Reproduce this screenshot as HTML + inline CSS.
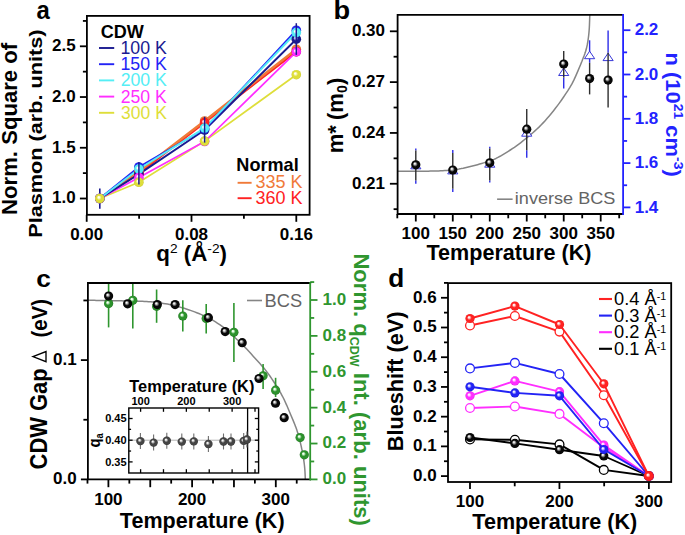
<!DOCTYPE html><html><head><meta charset="utf-8"><style>html,body{margin:0;padding:0;background:#fff;overflow:hidden}svg{display:block}text{font-family:"Liberation Sans",sans-serif}</style></head><body><svg width="685" height="535" viewBox="0 0 685 535" font-family="Liberation Sans, sans-serif"><defs><radialGradient id="gk" cx="0.5" cy="0.5" r="0.5" fx="0.37" fy="0.35"><stop offset="0" stop-color="#fff"/><stop offset="0.16" stop-color="#e0e0e0"/><stop offset="0.55" stop-color="#080808"/><stop offset="0.85" stop-color="#080808"/><stop offset="1" stop-color="#000"/></radialGradient><radialGradient id="gn" cx="0.5" cy="0.5" r="0.5" fx="0.37" fy="0.35"><stop offset="0" stop-color="#fff"/><stop offset="0.16" stop-color="#c8c8ff"/><stop offset="0.5" stop-color="#1a1a90"/><stop offset="0.85" stop-color="#1a1a90"/><stop offset="1" stop-color="#14147a"/></radialGradient><radialGradient id="gb" cx="0.5" cy="0.5" r="0.5" fx="0.37" fy="0.35"><stop offset="0" stop-color="#fff"/><stop offset="0.16" stop-color="#e0e0ff"/><stop offset="0.5" stop-color="#2323f5"/><stop offset="0.85" stop-color="#2323f5"/><stop offset="1" stop-color="#1a1ad0"/></radialGradient><radialGradient id="gc" cx="0.5" cy="0.5" r="0.5" fx="0.37" fy="0.35"><stop offset="0" stop-color="#fff"/><stop offset="0.16" stop-color="#ffffff"/><stop offset="0.5" stop-color="#55eef5"/><stop offset="0.85" stop-color="#55eef5"/><stop offset="1" stop-color="#40d8e4"/></radialGradient><radialGradient id="gm" cx="0.5" cy="0.5" r="0.5" fx="0.37" fy="0.35"><stop offset="0" stop-color="#fff"/><stop offset="0.16" stop-color="#ffe8ff"/><stop offset="0.5" stop-color="#ff2eff"/><stop offset="0.85" stop-color="#ff2eff"/><stop offset="1" stop-color="#e020e0"/></radialGradient><radialGradient id="gy" cx="0.5" cy="0.5" r="0.5" fx="0.37" fy="0.35"><stop offset="0" stop-color="#fff"/><stop offset="0.16" stop-color="#ffffe8"/><stop offset="0.5" stop-color="#dede3a"/><stop offset="0.85" stop-color="#dede3a"/><stop offset="1" stop-color="#c8c830"/></radialGradient><radialGradient id="go" cx="0.5" cy="0.5" r="0.5" fx="0.37" fy="0.35"><stop offset="0" stop-color="#fff"/><stop offset="0.16" stop-color="#fff0e0"/><stop offset="0.5" stop-color="#f07a38"/><stop offset="0.85" stop-color="#f07a38"/><stop offset="1" stop-color="#d87030"/></radialGradient><radialGradient id="gr" cx="0.5" cy="0.5" r="0.5" fx="0.37" fy="0.35"><stop offset="0" stop-color="#fff"/><stop offset="0.16" stop-color="#ffe8e8"/><stop offset="0.5" stop-color="#ff2222"/><stop offset="0.85" stop-color="#ff2222"/><stop offset="1" stop-color="#e81010"/></radialGradient><radialGradient id="gg" cx="0.5" cy="0.5" r="0.5" fx="0.37" fy="0.35"><stop offset="0" stop-color="#fff"/><stop offset="0.16" stop-color="#e8ffe8"/><stop offset="0.5" stop-color="#2c922c"/><stop offset="0.85" stop-color="#2c922c"/><stop offset="1" stop-color="#1e6c1e"/></radialGradient><radialGradient id="ggy" cx="0.5" cy="0.5" r="0.5" fx="0.37" fy="0.35"><stop offset="0" stop-color="#fff"/><stop offset="0.16" stop-color="#e8e8e8"/><stop offset="0.5" stop-color="#454545"/><stop offset="0.85" stop-color="#454545"/><stop offset="1" stop-color="#2c2c2c"/></radialGradient></defs><rect width="685" height="535" fill="#fff"/>
<line x1="79.90" y1="198.50" x2="86.90" y2="198.50" stroke="#000" stroke-width="1.8" stroke-linecap="butt"/>
<text x="75.60" y="203.40" font-size="17" font-weight="bold" fill="#000" text-anchor="end">1.0</text>
<line x1="79.90" y1="147.76" x2="86.90" y2="147.76" stroke="#000" stroke-width="1.8" stroke-linecap="butt"/>
<text x="75.60" y="152.66" font-size="17" font-weight="bold" fill="#000" text-anchor="end">1.5</text>
<line x1="79.90" y1="97.03" x2="86.90" y2="97.03" stroke="#000" stroke-width="1.8" stroke-linecap="butt"/>
<text x="75.60" y="101.93" font-size="17" font-weight="bold" fill="#000" text-anchor="end">2.0</text>
<line x1="79.90" y1="46.30" x2="86.90" y2="46.30" stroke="#000" stroke-width="1.8" stroke-linecap="butt"/>
<text x="75.60" y="51.20" font-size="17" font-weight="bold" fill="#000" text-anchor="end">2.5</text>
<line x1="82.90" y1="173.13" x2="86.90" y2="173.13" stroke="#000" stroke-width="1.8" stroke-linecap="butt"/>
<line x1="82.90" y1="122.40" x2="86.90" y2="122.40" stroke="#000" stroke-width="1.8" stroke-linecap="butt"/>
<line x1="82.90" y1="71.66" x2="86.90" y2="71.66" stroke="#000" stroke-width="1.8" stroke-linecap="butt"/>
<line x1="82.90" y1="20.93" x2="86.90" y2="20.93" stroke="#000" stroke-width="1.8" stroke-linecap="butt"/>
<line x1="86.70" y1="214.80" x2="86.70" y2="221.80" stroke="#000" stroke-width="1.8" stroke-linecap="butt"/>
<text x="86.70" y="240.20" font-size="17" font-weight="bold" fill="#000" text-anchor="middle">0.00</text>
<line x1="191.50" y1="214.80" x2="191.50" y2="221.80" stroke="#000" stroke-width="1.8" stroke-linecap="butt"/>
<text x="191.50" y="240.20" font-size="17" font-weight="bold" fill="#000" text-anchor="middle">0.08</text>
<line x1="296.30" y1="214.80" x2="296.30" y2="221.80" stroke="#000" stroke-width="1.8" stroke-linecap="butt"/>
<text x="296.30" y="240.20" font-size="17" font-weight="bold" fill="#000" text-anchor="middle">0.16</text>
<line x1="139.10" y1="214.80" x2="139.10" y2="218.80" stroke="#000" stroke-width="1.8" stroke-linecap="butt"/>
<line x1="243.90" y1="214.80" x2="243.90" y2="218.80" stroke="#000" stroke-width="1.8" stroke-linecap="butt"/>
<polyline points="99.80,198.50 138.90,173.40 204.60,122.60 296.30,51.60" fill="none" stroke="#ff2222" stroke-width="2.0" stroke-linejoin="round"/>
<polyline points="99.80,198.50 138.90,171.50 204.60,121.00 296.30,49.20" fill="none" stroke="#f07a38" stroke-width="2.6" stroke-linejoin="round"/>
<polyline points="99.80,198.50 138.90,182.30 204.60,141.10 296.30,74.70" fill="none" stroke="#dede3a" stroke-width="1.7" stroke-linejoin="round"/>
<polyline points="99.80,198.50 138.90,177.50 204.60,141.50 296.30,51.90" fill="none" stroke="#ff2eff" stroke-width="1.7" stroke-linejoin="round"/>
<polyline points="99.80,198.50 138.90,174.10 204.60,130.00 296.30,39.20" fill="none" stroke="#1a1a90" stroke-width="1.9" stroke-linejoin="round"/>
<polyline points="99.80,198.50 138.90,167.00 204.60,129.00 296.30,30.20" fill="none" stroke="#2323f5" stroke-width="1.9" stroke-linejoin="round"/>
<polyline points="99.80,198.50 138.90,169.00 204.60,128.10 296.30,32.50" fill="none" stroke="#55eef5" stroke-width="1.9" stroke-linejoin="round"/>
<line x1="99.80" y1="188.50" x2="99.80" y2="208.70" stroke="#1a1a90" stroke-width="1.6" stroke-linecap="butt"/>
<circle cx="99.80" cy="198.50" r="4.8" fill="url(#go)"/>
<circle cx="138.90" cy="171.50" r="4.8" fill="url(#go)"/>
<circle cx="204.60" cy="121.00" r="4.8" fill="url(#go)"/>
<circle cx="296.30" cy="49.20" r="4.8" fill="url(#go)"/>
<circle cx="99.80" cy="198.50" r="4.8" fill="url(#gr)"/>
<circle cx="138.90" cy="173.40" r="4.8" fill="url(#gr)"/>
<circle cx="204.60" cy="122.60" r="4.8" fill="url(#gr)"/>
<circle cx="296.30" cy="51.60" r="4.8" fill="url(#gr)"/>
<circle cx="99.80" cy="198.50" r="4.8" fill="url(#gn)"/>
<circle cx="138.90" cy="174.10" r="4.8" fill="url(#gn)"/>
<circle cx="204.60" cy="130.00" r="4.8" fill="url(#gn)"/>
<circle cx="296.30" cy="39.20" r="4.8" fill="url(#gn)"/>
<circle cx="99.80" cy="198.50" r="4.8" fill="url(#gb)"/>
<circle cx="138.90" cy="167.00" r="4.8" fill="url(#gb)"/>
<circle cx="204.60" cy="129.00" r="4.8" fill="url(#gb)"/>
<circle cx="296.30" cy="30.20" r="4.8" fill="url(#gb)"/>
<circle cx="99.80" cy="198.50" r="4.8" fill="url(#gc)"/>
<circle cx="138.90" cy="169.00" r="4.8" fill="url(#gc)"/>
<circle cx="204.60" cy="128.10" r="4.8" fill="url(#gc)"/>
<circle cx="296.30" cy="32.50" r="4.8" fill="url(#gc)"/>
<circle cx="99.80" cy="198.50" r="4.8" fill="url(#gm)"/>
<circle cx="138.90" cy="177.50" r="4.8" fill="url(#gm)"/>
<circle cx="204.60" cy="141.50" r="4.8" fill="url(#gm)"/>
<circle cx="296.30" cy="51.90" r="4.8" fill="url(#gm)"/>
<circle cx="99.80" cy="198.50" r="4.8" fill="url(#gy)"/>
<circle cx="138.90" cy="182.30" r="4.8" fill="url(#gy)"/>
<circle cx="204.60" cy="141.10" r="4.8" fill="url(#gy)"/>
<circle cx="296.30" cy="74.70" r="4.8" fill="url(#gy)"/>
<line x1="138.90" y1="162.10" x2="138.90" y2="184.50" stroke="#1a1a90" stroke-width="1.5" stroke-linecap="butt"/>
<line x1="204.60" y1="116.80" x2="204.60" y2="142.60" stroke="#1a1a90" stroke-width="1.5" stroke-linecap="butt"/>
<line x1="296.30" y1="23.20" x2="296.30" y2="54.90" stroke="#1a1a90" stroke-width="1.5" stroke-linecap="butt"/>
<rect x="86.9" y="15.9" width="222.70" height="198.90" fill="none" stroke="#000" stroke-width="1.8"/>
<line x1="99.00" y1="48.00" x2="114.20" y2="48.00" stroke="#1a1a90" stroke-width="1.9" stroke-linecap="butt"/>
<line x1="99.00" y1="64.20" x2="114.20" y2="64.20" stroke="#2323f5" stroke-width="1.9" stroke-linecap="butt"/>
<line x1="99.00" y1="80.40" x2="114.20" y2="80.40" stroke="#55eef5" stroke-width="1.9" stroke-linecap="butt"/>
<line x1="99.00" y1="96.60" x2="114.20" y2="96.60" stroke="#ff2eff" stroke-width="1.9" stroke-linecap="butt"/>
<line x1="99.00" y1="112.80" x2="114.20" y2="112.80" stroke="#dede3a" stroke-width="1.9" stroke-linecap="butt"/>
<line x1="237.60" y1="182.80" x2="251.60" y2="182.80" stroke="#f07a38" stroke-width="1.9" stroke-linecap="butt"/>
<line x1="237.60" y1="198.20" x2="251.60" y2="198.20" stroke="#ff2222" stroke-width="1.9" stroke-linecap="butt"/>
<line x1="389.90" y1="183.76" x2="397.60" y2="183.76" stroke="#000" stroke-width="1.8" stroke-linecap="butt"/>
<text x="385.00" y="188.66" font-size="17" font-weight="bold" fill="#000" text-anchor="end">0.21</text>
<line x1="389.90" y1="132.94" x2="397.60" y2="132.94" stroke="#000" stroke-width="1.8" stroke-linecap="butt"/>
<text x="385.00" y="137.84" font-size="17" font-weight="bold" fill="#000" text-anchor="end">0.24</text>
<line x1="389.90" y1="82.12" x2="397.60" y2="82.12" stroke="#000" stroke-width="1.8" stroke-linecap="butt"/>
<text x="385.00" y="87.02" font-size="17" font-weight="bold" fill="#000" text-anchor="end">0.27</text>
<line x1="389.90" y1="31.30" x2="397.60" y2="31.30" stroke="#000" stroke-width="1.8" stroke-linecap="butt"/>
<text x="385.00" y="36.20" font-size="17" font-weight="bold" fill="#000" text-anchor="end">0.30</text>
<line x1="393.60" y1="209.17" x2="397.60" y2="209.17" stroke="#000" stroke-width="1.8" stroke-linecap="butt"/>
<line x1="393.60" y1="158.35" x2="397.60" y2="158.35" stroke="#000" stroke-width="1.8" stroke-linecap="butt"/>
<line x1="393.60" y1="107.53" x2="397.60" y2="107.53" stroke="#000" stroke-width="1.8" stroke-linecap="butt"/>
<line x1="393.60" y1="56.71" x2="397.60" y2="56.71" stroke="#000" stroke-width="1.8" stroke-linecap="butt"/>
<line x1="623.10" y1="207.40" x2="630.40" y2="207.40" stroke="#2323ff" stroke-width="1.8" stroke-linecap="butt"/>
<text x="634.70" y="212.60" font-size="17" font-weight="bold" fill="#2323ff" text-anchor="start">1.4</text>
<line x1="623.10" y1="163.10" x2="630.40" y2="163.10" stroke="#2323ff" stroke-width="1.8" stroke-linecap="butt"/>
<text x="634.70" y="168.30" font-size="17" font-weight="bold" fill="#2323ff" text-anchor="start">1.6</text>
<line x1="623.10" y1="118.80" x2="630.40" y2="118.80" stroke="#2323ff" stroke-width="1.8" stroke-linecap="butt"/>
<text x="634.70" y="124.00" font-size="17" font-weight="bold" fill="#2323ff" text-anchor="start">1.8</text>
<line x1="623.10" y1="74.50" x2="630.40" y2="74.50" stroke="#2323ff" stroke-width="1.8" stroke-linecap="butt"/>
<text x="634.70" y="79.70" font-size="17" font-weight="bold" fill="#2323ff" text-anchor="start">2.0</text>
<line x1="623.10" y1="30.20" x2="630.40" y2="30.20" stroke="#2323ff" stroke-width="1.8" stroke-linecap="butt"/>
<text x="634.70" y="35.40" font-size="17" font-weight="bold" fill="#2323ff" text-anchor="start">2.2</text>
<line x1="623.10" y1="185.25" x2="627.10" y2="185.25" stroke="#2323ff" stroke-width="1.8" stroke-linecap="butt"/>
<line x1="623.10" y1="140.95" x2="627.10" y2="140.95" stroke="#2323ff" stroke-width="1.8" stroke-linecap="butt"/>
<line x1="623.10" y1="96.65" x2="627.10" y2="96.65" stroke="#2323ff" stroke-width="1.8" stroke-linecap="butt"/>
<line x1="623.10" y1="52.35" x2="627.10" y2="52.35" stroke="#2323ff" stroke-width="1.8" stroke-linecap="butt"/>
<line x1="415.80" y1="214.00" x2="415.80" y2="221.50" stroke="#000" stroke-width="1.8" stroke-linecap="butt"/>
<text x="415.80" y="238.60" font-size="17" font-weight="bold" fill="#000" text-anchor="middle">100</text>
<line x1="452.78" y1="214.00" x2="452.78" y2="221.50" stroke="#000" stroke-width="1.8" stroke-linecap="butt"/>
<text x="452.78" y="238.60" font-size="17" font-weight="bold" fill="#000" text-anchor="middle">150</text>
<line x1="489.76" y1="214.00" x2="489.76" y2="221.50" stroke="#000" stroke-width="1.8" stroke-linecap="butt"/>
<text x="489.76" y="238.60" font-size="17" font-weight="bold" fill="#000" text-anchor="middle">200</text>
<line x1="526.74" y1="214.00" x2="526.74" y2="221.50" stroke="#000" stroke-width="1.8" stroke-linecap="butt"/>
<text x="526.74" y="238.60" font-size="17" font-weight="bold" fill="#000" text-anchor="middle">250</text>
<line x1="563.72" y1="214.00" x2="563.72" y2="221.50" stroke="#000" stroke-width="1.8" stroke-linecap="butt"/>
<text x="563.72" y="238.60" font-size="17" font-weight="bold" fill="#000" text-anchor="middle">300</text>
<line x1="600.70" y1="214.00" x2="600.70" y2="221.50" stroke="#000" stroke-width="1.8" stroke-linecap="butt"/>
<text x="600.70" y="238.60" font-size="17" font-weight="bold" fill="#000" text-anchor="middle">350</text>
<line x1="397.31" y1="214.00" x2="397.31" y2="218.30" stroke="#000" stroke-width="1.8" stroke-linecap="butt"/>
<line x1="434.29" y1="214.00" x2="434.29" y2="218.30" stroke="#000" stroke-width="1.8" stroke-linecap="butt"/>
<line x1="471.27" y1="214.00" x2="471.27" y2="218.30" stroke="#000" stroke-width="1.8" stroke-linecap="butt"/>
<line x1="508.25" y1="214.00" x2="508.25" y2="218.30" stroke="#000" stroke-width="1.8" stroke-linecap="butt"/>
<line x1="545.23" y1="214.00" x2="545.23" y2="218.30" stroke="#000" stroke-width="1.8" stroke-linecap="butt"/>
<line x1="582.21" y1="214.00" x2="582.21" y2="218.30" stroke="#000" stroke-width="1.8" stroke-linecap="butt"/>
<line x1="619.19" y1="214.00" x2="619.19" y2="218.30" stroke="#000" stroke-width="1.8" stroke-linecap="butt"/>
<polyline points="397.60,171.20 399.65,171.20 401.70,171.20 403.75,171.20 405.80,171.20 407.85,171.20 409.90,171.20 411.95,171.20 414.00,171.20 416.04,171.20 418.09,171.20 420.14,171.20 422.19,171.20 424.24,171.18 426.29,171.17 428.34,171.15 430.39,171.12 432.44,171.09 434.49,171.05 436.54,171.00 438.59,170.93 440.64,170.85 442.69,170.75 444.74,170.62 446.79,170.45 448.84,170.25 450.89,170.02 452.93,169.77 454.98,169.50 457.03,169.21 459.08,168.92 461.13,168.58 463.18,168.19 465.23,167.74 467.28,167.27 469.33,166.78 471.38,166.28 473.43,165.77 475.48,165.23 477.53,164.67 479.58,164.09 481.63,163.49 483.68,162.88 485.73,162.26 487.78,161.62 489.82,160.94 491.87,160.21 493.92,159.41 495.97,158.46 498.02,157.39 500.07,156.27 502.12,155.05 504.17,153.80 506.22,152.54 508.27,151.27 510.32,149.99 512.37,148.68 514.42,147.31 516.47,145.86 518.52,144.36 520.57,142.81 522.62,141.20 524.67,139.54 526.71,137.86 528.76,136.16 530.81,134.45 532.86,132.71 534.91,130.92 536.96,129.05 539.01,127.10 541.06,125.04 543.11,122.89 545.16,120.65 547.21,118.33 549.26,115.96 551.31,113.51 553.36,110.96 555.41,108.32 557.46,105.61 559.51,102.84 561.56,99.96 563.60,96.98 565.65,93.94 567.70,90.90 569.75,87.70 571.80,84.18 573.85,80.13 575.90,75.60 577.95,70.88 580.00,66.04 580.17,65.64 580.33,65.24 580.50,64.83 580.66,64.42 580.83,64.01 581.00,63.59 581.16,63.18 581.33,62.76 581.49,62.34 581.66,61.91 581.83,61.49 581.99,61.06 582.16,60.63 582.33,60.20 582.49,59.76 582.66,59.33 582.82,58.91 582.99,58.49 583.16,58.08 583.32,57.67 583.49,57.26 583.65,56.85 583.82,56.43 583.99,56.01 584.15,55.59 584.32,55.16 584.48,54.72 584.65,54.27 584.82,53.81 584.98,53.34 585.15,52.86 585.32,52.36 585.48,51.84 585.65,51.30 585.81,50.75 585.98,50.17 586.15,49.58 586.31,48.95 586.48,48.30 586.64,47.62 586.81,46.90 586.98,46.13 587.14,45.33 587.31,44.48 587.47,43.57 587.64,42.62 587.81,41.62 587.97,40.55 588.14,39.43 588.31,38.25 588.47,37.00 588.64,35.65 588.80,34.12 588.97,32.37 589.14,30.34 589.30,27.97 589.47,24.60 589.63,20.03 589.80,14.90" fill="none" stroke="#858585" stroke-width="1.5" stroke-linejoin="round"/>
<line x1="415.80" y1="148.40" x2="415.80" y2="150.60" stroke="#2c2ce8" stroke-width="1.4" stroke-linecap="butt"/>
<line x1="415.80" y1="180.40" x2="415.80" y2="183.70" stroke="#2c2ce8" stroke-width="1.4" stroke-linecap="butt"/>
<line x1="452.78" y1="149.90" x2="452.78" y2="152.90" stroke="#2c2ce8" stroke-width="1.4" stroke-linecap="butt"/>
<line x1="452.78" y1="188.70" x2="452.78" y2="192.10" stroke="#2c2ce8" stroke-width="1.4" stroke-linecap="butt"/>
<line x1="489.76" y1="146.70" x2="489.76" y2="148.50" stroke="#2c2ce8" stroke-width="1.4" stroke-linecap="butt"/>
<line x1="489.76" y1="180.50" x2="489.76" y2="182.60" stroke="#2c2ce8" stroke-width="1.4" stroke-linecap="butt"/>
<line x1="526.74" y1="150.20" x2="526.74" y2="157.70" stroke="#2c2ce8" stroke-width="1.4" stroke-linecap="butt"/>
<line x1="563.72" y1="77.50" x2="563.72" y2="88.40" stroke="#2c2ce8" stroke-width="1.4" stroke-linecap="butt"/>
<line x1="589.61" y1="40.30" x2="589.61" y2="62.80" stroke="#2c2ce8" stroke-width="1.4" stroke-linecap="butt"/>
<line x1="608.10" y1="30.40" x2="608.10" y2="52.70" stroke="#2c2ce8" stroke-width="1.4" stroke-linecap="butt"/>
<polygon points="415.80,161.30 410.70,168.80 420.90,168.80" fill="#fff" stroke="#3838d8" stroke-width="1.0" stroke-linejoin="round"/>
<polygon points="452.78,166.40 447.68,173.90 457.88,173.90" fill="#fff" stroke="#3838d8" stroke-width="1.0" stroke-linejoin="round"/>
<polygon points="489.76,159.70 484.66,167.20 494.86,167.20" fill="#fff" stroke="#3838d8" stroke-width="1.0" stroke-linejoin="round"/>
<polygon points="526.74,128.70 521.64,136.20 531.84,136.20" fill="#fff" stroke="#3838d8" stroke-width="1.0" stroke-linejoin="round"/>
<polygon points="563.72,68.00 558.62,75.50 568.82,75.50" fill="#fff" stroke="#3838d8" stroke-width="1.0" stroke-linejoin="round"/>
<polygon points="589.61,51.20 584.51,58.70 594.71,58.70" fill="#fff" stroke="#3838d8" stroke-width="1.0" stroke-linejoin="round"/>
<polygon points="608.10,53.10 603.00,60.60 613.20,60.60" fill="#fff" stroke="#3838d8" stroke-width="1.0" stroke-linejoin="round"/>
<line x1="415.80" y1="150.60" x2="415.80" y2="180.40" stroke="#2e2e2e" stroke-width="1.4" stroke-linecap="butt"/>
<line x1="452.78" y1="152.90" x2="452.78" y2="188.70" stroke="#2e2e2e" stroke-width="1.4" stroke-linecap="butt"/>
<line x1="489.76" y1="148.50" x2="489.76" y2="180.50" stroke="#2e2e2e" stroke-width="1.4" stroke-linecap="butt"/>
<line x1="526.74" y1="109.00" x2="526.74" y2="150.20" stroke="#2e2e2e" stroke-width="1.4" stroke-linecap="butt"/>
<line x1="563.72" y1="50.90" x2="563.72" y2="77.50" stroke="#2e2e2e" stroke-width="1.4" stroke-linecap="butt"/>
<line x1="589.61" y1="62.80" x2="589.61" y2="94.40" stroke="#2e2e2e" stroke-width="1.4" stroke-linecap="butt"/>
<line x1="608.10" y1="52.70" x2="608.10" y2="107.50" stroke="#2e2e2e" stroke-width="1.4" stroke-linecap="butt"/>
<circle cx="415.80" cy="164.85" r="4.6" fill="url(#gk)"/>
<circle cx="452.78" cy="170.00" r="4.6" fill="url(#gk)"/>
<circle cx="489.76" cy="162.80" r="4.6" fill="url(#gk)"/>
<circle cx="526.74" cy="129.20" r="4.6" fill="url(#gk)"/>
<circle cx="563.72" cy="64.00" r="4.6" fill="url(#gk)"/>
<circle cx="589.61" cy="78.60" r="4.6" fill="url(#gk)"/>
<circle cx="608.10" cy="80.10" r="4.6" fill="url(#gk)"/>
<polyline points="623.1,14.9 397.6,14.9 397.6,214.0 623.1,214.0" fill="none" stroke="#000" stroke-width="1.8" stroke-linecap="square"/>
<line x1="623.10" y1="14.00" x2="623.10" y2="214.90" stroke="#2323ff" stroke-width="1.8" stroke-linecap="butt"/>
<line x1="497.10" y1="199.20" x2="512.60" y2="199.20" stroke="#858585" stroke-width="1.6" stroke-linecap="butt"/>
<line x1="80.90" y1="479.40" x2="87.90" y2="479.40" stroke="#000" stroke-width="1.8" stroke-linecap="butt"/>
<text x="76.60" y="484.30" font-size="17" font-weight="bold" fill="#000" text-anchor="end">0.0</text>
<line x1="80.90" y1="360.10" x2="87.90" y2="360.10" stroke="#000" stroke-width="1.8" stroke-linecap="butt"/>
<text x="76.60" y="365.00" font-size="17" font-weight="bold" fill="#000" text-anchor="end">0.1</text>
<line x1="83.40" y1="419.75" x2="87.90" y2="419.75" stroke="#000" stroke-width="1.8" stroke-linecap="butt"/>
<line x1="83.40" y1="300.45" x2="87.90" y2="300.45" stroke="#000" stroke-width="1.8" stroke-linecap="butt"/>
<line x1="310.20" y1="479.40" x2="317.50" y2="479.40" stroke="#2f962f" stroke-width="1.8" stroke-linecap="butt"/>
<text x="322.50" y="484.30" font-size="17" font-weight="bold" fill="#2f962f" text-anchor="start">0.0</text>
<line x1="310.20" y1="443.52" x2="317.50" y2="443.52" stroke="#2f962f" stroke-width="1.8" stroke-linecap="butt"/>
<text x="322.50" y="448.42" font-size="17" font-weight="bold" fill="#2f962f" text-anchor="start">0.2</text>
<line x1="310.20" y1="407.64" x2="317.50" y2="407.64" stroke="#2f962f" stroke-width="1.8" stroke-linecap="butt"/>
<text x="322.50" y="412.54" font-size="17" font-weight="bold" fill="#2f962f" text-anchor="start">0.4</text>
<line x1="310.20" y1="371.76" x2="317.50" y2="371.76" stroke="#2f962f" stroke-width="1.8" stroke-linecap="butt"/>
<text x="322.50" y="376.66" font-size="17" font-weight="bold" fill="#2f962f" text-anchor="start">0.6</text>
<line x1="310.20" y1="335.88" x2="317.50" y2="335.88" stroke="#2f962f" stroke-width="1.8" stroke-linecap="butt"/>
<text x="322.50" y="340.78" font-size="17" font-weight="bold" fill="#2f962f" text-anchor="start">0.8</text>
<line x1="310.20" y1="300.00" x2="317.50" y2="300.00" stroke="#2f962f" stroke-width="1.8" stroke-linecap="butt"/>
<text x="322.50" y="304.90" font-size="17" font-weight="bold" fill="#2f962f" text-anchor="start">1.0</text>
<line x1="310.20" y1="461.46" x2="314.20" y2="461.46" stroke="#2f962f" stroke-width="1.8" stroke-linecap="butt"/>
<line x1="310.20" y1="425.58" x2="314.20" y2="425.58" stroke="#2f962f" stroke-width="1.8" stroke-linecap="butt"/>
<line x1="310.20" y1="389.70" x2="314.20" y2="389.70" stroke="#2f962f" stroke-width="1.8" stroke-linecap="butt"/>
<line x1="310.20" y1="353.82" x2="314.20" y2="353.82" stroke="#2f962f" stroke-width="1.8" stroke-linecap="butt"/>
<line x1="310.20" y1="317.94" x2="314.20" y2="317.94" stroke="#2f962f" stroke-width="1.8" stroke-linecap="butt"/>
<line x1="310.20" y1="282.06" x2="314.20" y2="282.06" stroke="#2f962f" stroke-width="1.8" stroke-linecap="butt"/>
<line x1="108.40" y1="479.40" x2="108.40" y2="487.20" stroke="#000" stroke-width="1.8" stroke-linecap="butt"/>
<line x1="150.25" y1="479.40" x2="150.25" y2="487.20" stroke="#000" stroke-width="1.8" stroke-linecap="butt"/>
<line x1="192.10" y1="479.40" x2="192.10" y2="487.20" stroke="#000" stroke-width="1.8" stroke-linecap="butt"/>
<line x1="233.95" y1="479.40" x2="233.95" y2="487.20" stroke="#000" stroke-width="1.8" stroke-linecap="butt"/>
<line x1="275.80" y1="479.40" x2="275.80" y2="487.20" stroke="#000" stroke-width="1.8" stroke-linecap="butt"/>
<text x="108.40" y="504.60" font-size="17" font-weight="bold" fill="#000" text-anchor="middle">100</text>
<text x="192.10" y="504.60" font-size="17" font-weight="bold" fill="#000" text-anchor="middle">200</text>
<text x="275.80" y="504.60" font-size="17" font-weight="bold" fill="#000" text-anchor="middle">300</text>
<line x1="87.48" y1="479.40" x2="87.48" y2="483.60" stroke="#000" stroke-width="1.8" stroke-linecap="butt"/>
<line x1="129.33" y1="479.40" x2="129.33" y2="483.60" stroke="#000" stroke-width="1.8" stroke-linecap="butt"/>
<line x1="171.18" y1="479.40" x2="171.18" y2="483.60" stroke="#000" stroke-width="1.8" stroke-linecap="butt"/>
<line x1="213.03" y1="479.40" x2="213.03" y2="483.60" stroke="#000" stroke-width="1.8" stroke-linecap="butt"/>
<line x1="254.88" y1="479.40" x2="254.88" y2="483.60" stroke="#000" stroke-width="1.8" stroke-linecap="butt"/>
<line x1="296.73" y1="479.40" x2="296.73" y2="483.60" stroke="#000" stroke-width="1.8" stroke-linecap="butt"/>
<line x1="128.80" y1="440.20" x2="258.60" y2="440.20" stroke="#b4b4b4" stroke-width="1.0" stroke-linecap="butt"/>
<line x1="128.80" y1="461.90" x2="132.60" y2="461.90" stroke="#000" stroke-width="1.3" stroke-linecap="butt"/>
<line x1="254.80" y1="461.90" x2="258.60" y2="461.90" stroke="#000" stroke-width="1.3" stroke-linecap="butt"/>
<text x="126.60" y="465.70" font-size="11" font-weight="bold" fill="#000" text-anchor="end">0.35</text>
<line x1="128.80" y1="440.20" x2="132.60" y2="440.20" stroke="#000" stroke-width="1.3" stroke-linecap="butt"/>
<line x1="254.80" y1="440.20" x2="258.60" y2="440.20" stroke="#000" stroke-width="1.3" stroke-linecap="butt"/>
<text x="126.60" y="444.00" font-size="11" font-weight="bold" fill="#000" text-anchor="end">0.40</text>
<line x1="128.80" y1="418.50" x2="132.60" y2="418.50" stroke="#000" stroke-width="1.3" stroke-linecap="butt"/>
<line x1="254.80" y1="418.50" x2="258.60" y2="418.50" stroke="#000" stroke-width="1.3" stroke-linecap="butt"/>
<text x="126.60" y="422.30" font-size="11" font-weight="bold" fill="#000" text-anchor="end">0.45</text>
<line x1="128.80" y1="451.05" x2="131.10" y2="451.05" stroke="#000" stroke-width="1.3" stroke-linecap="butt"/>
<line x1="256.30" y1="451.05" x2="258.60" y2="451.05" stroke="#000" stroke-width="1.3" stroke-linecap="butt"/>
<line x1="128.80" y1="429.35" x2="131.10" y2="429.35" stroke="#000" stroke-width="1.3" stroke-linecap="butt"/>
<line x1="256.30" y1="429.35" x2="258.60" y2="429.35" stroke="#000" stroke-width="1.3" stroke-linecap="butt"/>
<line x1="140.60" y1="408.00" x2="140.60" y2="411.80" stroke="#000" stroke-width="1.3" stroke-linecap="butt"/>
<line x1="140.60" y1="469.20" x2="140.60" y2="473.00" stroke="#000" stroke-width="1.3" stroke-linecap="butt"/>
<line x1="163.48" y1="408.00" x2="163.48" y2="411.80" stroke="#000" stroke-width="1.3" stroke-linecap="butt"/>
<line x1="163.48" y1="469.20" x2="163.48" y2="473.00" stroke="#000" stroke-width="1.3" stroke-linecap="butt"/>
<line x1="186.36" y1="408.00" x2="186.36" y2="411.80" stroke="#000" stroke-width="1.3" stroke-linecap="butt"/>
<line x1="186.36" y1="469.20" x2="186.36" y2="473.00" stroke="#000" stroke-width="1.3" stroke-linecap="butt"/>
<line x1="209.24" y1="408.00" x2="209.24" y2="411.80" stroke="#000" stroke-width="1.3" stroke-linecap="butt"/>
<line x1="209.24" y1="469.20" x2="209.24" y2="473.00" stroke="#000" stroke-width="1.3" stroke-linecap="butt"/>
<line x1="232.12" y1="408.00" x2="232.12" y2="411.80" stroke="#000" stroke-width="1.3" stroke-linecap="butt"/>
<line x1="232.12" y1="469.20" x2="232.12" y2="473.00" stroke="#000" stroke-width="1.3" stroke-linecap="butt"/>
<line x1="255.00" y1="408.00" x2="255.00" y2="411.80" stroke="#000" stroke-width="1.3" stroke-linecap="butt"/>
<line x1="255.00" y1="469.20" x2="255.00" y2="473.00" stroke="#000" stroke-width="1.3" stroke-linecap="butt"/>
<text x="140.60" y="404.80" font-size="11" font-weight="bold" fill="#000" text-anchor="middle">100</text>
<text x="186.36" y="404.80" font-size="11" font-weight="bold" fill="#000" text-anchor="middle">200</text>
<text x="232.12" y="404.80" font-size="11" font-weight="bold" fill="#000" text-anchor="middle">300</text>
<line x1="247.60" y1="408.00" x2="247.60" y2="473.00" stroke="#000" stroke-width="1.3" stroke-linecap="butt"/>
<line x1="140.40" y1="433.10" x2="140.40" y2="449.10" stroke="#6e6e6e" stroke-width="1.1" stroke-linecap="butt"/>
<line x1="153.60" y1="434.60" x2="153.60" y2="450.60" stroke="#6e6e6e" stroke-width="1.1" stroke-linecap="butt"/>
<line x1="166.80" y1="432.80" x2="166.80" y2="448.80" stroke="#6e6e6e" stroke-width="1.1" stroke-linecap="butt"/>
<line x1="181.80" y1="433.60" x2="181.80" y2="449.60" stroke="#6e6e6e" stroke-width="1.1" stroke-linecap="butt"/>
<line x1="193.80" y1="433.40" x2="193.80" y2="449.40" stroke="#6e6e6e" stroke-width="1.1" stroke-linecap="butt"/>
<line x1="208.40" y1="436.00" x2="208.40" y2="452.00" stroke="#6e6e6e" stroke-width="1.1" stroke-linecap="butt"/>
<line x1="223.50" y1="433.50" x2="223.50" y2="449.50" stroke="#6e6e6e" stroke-width="1.1" stroke-linecap="butt"/>
<line x1="231.00" y1="433.50" x2="231.00" y2="449.50" stroke="#6e6e6e" stroke-width="1.1" stroke-linecap="butt"/>
<line x1="243.70" y1="432.90" x2="243.70" y2="448.90" stroke="#6e6e6e" stroke-width="1.1" stroke-linecap="butt"/>
<line x1="246.90" y1="431.50" x2="246.90" y2="447.50" stroke="#6e6e6e" stroke-width="1.1" stroke-linecap="butt"/>
<circle cx="140.40" cy="441.10" r="4.2" fill="url(#ggy)"/>
<circle cx="153.60" cy="442.60" r="4.2" fill="url(#ggy)"/>
<circle cx="166.80" cy="440.80" r="4.2" fill="url(#ggy)"/>
<circle cx="181.80" cy="441.60" r="4.2" fill="url(#ggy)"/>
<circle cx="193.80" cy="441.40" r="4.2" fill="url(#ggy)"/>
<circle cx="208.40" cy="444.00" r="4.2" fill="url(#ggy)"/>
<circle cx="223.50" cy="441.50" r="4.2" fill="url(#ggy)"/>
<circle cx="231.00" cy="441.50" r="4.2" fill="url(#ggy)"/>
<circle cx="243.70" cy="440.90" r="4.2" fill="url(#ggy)"/>
<circle cx="246.90" cy="439.50" r="4.2" fill="url(#ggy)"/>
<rect x="128.8" y="408.0" width="129.80" height="65.00" fill="none" stroke="#000" stroke-width="1.4"/>
<polyline points="88.00,300.30 90.09,300.32 92.18,300.35 94.27,300.37 96.36,300.40 98.45,300.43 100.55,300.46 102.64,300.50 104.73,300.53 106.82,300.57 108.91,300.61 111.00,300.65 113.09,300.69 115.18,300.73 117.27,300.78 119.36,300.82 121.45,300.87 123.55,300.91 125.64,300.95 127.73,300.99 129.82,301.03 131.91,301.08 134.00,301.12 136.09,301.17 138.18,301.23 140.27,301.29 142.36,301.37 144.45,301.46 146.55,301.57 148.64,301.71 150.73,301.85 152.82,302.04 154.91,302.26 157.00,302.50 159.09,302.78 161.18,303.07 163.27,303.39 165.36,303.73 167.45,304.10 169.55,304.53 171.64,305.00 173.73,305.49 175.82,306.02 177.91,306.56 180.00,307.12 182.09,307.70 184.18,308.33 186.27,308.99 188.36,309.68 190.45,310.40 192.55,311.14 194.64,311.91 196.73,312.71 198.82,313.54 200.91,314.41 203.00,315.32 205.09,316.28 207.18,317.29 209.27,318.35 211.36,319.48 213.45,320.68 215.55,321.94 217.64,323.28 219.73,324.68 221.82,326.14 223.91,327.69 226.00,329.38 228.09,331.19 230.18,333.10 232.27,335.05 234.36,337.01 236.45,338.95 238.55,340.93 240.64,342.93 242.73,344.99 244.82,347.10 246.91,349.28 249.00,351.55 251.09,353.87 253.18,356.22 255.27,358.54 257.36,360.82 259.45,363.08 261.55,365.39 263.64,367.81 265.73,370.40 267.82,373.15 269.91,376.06 272.00,379.11 274.09,382.28 276.18,385.54 278.27,388.92 280.36,392.47 282.45,396.28 284.55,400.44 286.64,405.08 288.73,410.02 290.82,415.03 292.91,419.91 295.00,425.02 295.17,425.47 295.35,425.93 295.52,426.39 295.70,426.86 295.87,427.34 296.05,427.82 296.22,428.31 296.40,428.80 296.57,429.31 296.75,429.82 296.92,430.34 297.09,430.87 297.27,431.41 297.44,431.95 297.62,432.51 297.79,433.07 297.97,433.65 298.14,434.24 298.32,434.84 298.49,435.44 298.67,436.06 298.84,436.69 299.02,437.34 299.19,437.99 299.36,438.65 299.54,439.33 299.71,440.01 299.89,440.71 300.06,441.42 300.24,442.14 300.41,442.87 300.59,443.61 300.76,444.37 300.94,445.14 301.11,445.92 301.28,446.71 301.46,447.51 301.63,448.32 301.81,449.14 301.98,449.97 302.16,450.81 302.33,451.67 302.51,452.56 302.68,453.47 302.86,454.42 303.03,455.40 303.21,456.43 303.38,457.51 303.55,458.64 303.73,459.83 303.90,461.08 304.08,462.39 304.25,463.75 304.43,465.23 304.60,466.91 304.78,468.89 304.95,471.25 305.13,474.61 305.30,479.40" fill="none" stroke="#858585" stroke-width="1.5" stroke-linejoin="round"/>
<line x1="108.60" y1="283.00" x2="108.60" y2="327.40" stroke="#2f962f" stroke-width="1.6" stroke-linecap="butt"/>
<line x1="132.80" y1="283.00" x2="132.80" y2="328.50" stroke="#2f962f" stroke-width="1.6" stroke-linecap="butt"/>
<line x1="156.60" y1="289.50" x2="156.60" y2="322.80" stroke="#2f962f" stroke-width="1.6" stroke-linecap="butt"/>
<line x1="182.80" y1="300.20" x2="182.80" y2="331.60" stroke="#2f962f" stroke-width="1.6" stroke-linecap="butt"/>
<line x1="206.20" y1="303.90" x2="206.20" y2="333.50" stroke="#2f962f" stroke-width="1.6" stroke-linecap="butt"/>
<line x1="233.90" y1="303.10" x2="233.90" y2="362.00" stroke="#2f962f" stroke-width="1.6" stroke-linecap="butt"/>
<line x1="263.10" y1="364.00" x2="263.10" y2="388.90" stroke="#2f962f" stroke-width="1.6" stroke-linecap="butt"/>
<line x1="275.60" y1="377.80" x2="275.60" y2="397.00" stroke="#2f962f" stroke-width="1.6" stroke-linecap="butt"/>
<circle cx="108.60" cy="303.60" r="4.6" fill="url(#gg)"/>
<circle cx="108.60" cy="296.00" r="4.6" fill="url(#gk)"/>
<circle cx="132.80" cy="300.30" r="4.6" fill="url(#gg)"/>
<circle cx="127.60" cy="303.80" r="4.6" fill="url(#gk)"/>
<circle cx="156.60" cy="306.30" r="4.6" fill="url(#gg)"/>
<circle cx="157.30" cy="304.60" r="4.6" fill="url(#gk)"/>
<circle cx="175.10" cy="304.60" r="4.6" fill="url(#gk)"/>
<circle cx="182.80" cy="316.00" r="4.6" fill="url(#gg)"/>
<circle cx="206.20" cy="318.50" r="4.6" fill="url(#gg)"/>
<circle cx="208.40" cy="317.70" r="4.6" fill="url(#gk)"/>
<circle cx="225.20" cy="331.60" r="4.6" fill="url(#gk)"/>
<circle cx="233.90" cy="332.30" r="4.6" fill="url(#gg)"/>
<circle cx="242.20" cy="342.70" r="4.6" fill="url(#gk)"/>
<circle cx="263.10" cy="375.80" r="4.6" fill="url(#gg)"/>
<circle cx="259.00" cy="378.50" r="4.6" fill="url(#gk)"/>
<circle cx="275.60" cy="390.20" r="4.6" fill="url(#gg)"/>
<circle cx="275.50" cy="403.20" r="4.6" fill="url(#gk)"/>
<circle cx="284.20" cy="417.70" r="4.6" fill="url(#gk)"/>
<circle cx="300.10" cy="437.60" r="4.6" fill="url(#gg)"/>
<circle cx="304.30" cy="454.80" r="4.6" fill="url(#gg)"/>
<polyline points="310.2,283.0 87.9,283.0 87.9,479.4 310.2,479.4" fill="none" stroke="#000" stroke-width="1.8" stroke-linecap="square"/>
<line x1="310.20" y1="282.10" x2="310.20" y2="480.30" stroke="#2f962f" stroke-width="1.8" stroke-linecap="butt"/>
<line x1="247.00" y1="300.50" x2="262.00" y2="300.50" stroke="#858585" stroke-width="1.6" stroke-linecap="butt"/>
<polygon points="32.9,356.6 46.0,351.5 46.0,361.7" fill="none" stroke="#000" stroke-width="1.35" stroke-linejoin="miter"/>
<line x1="441.00" y1="476.10" x2="448.00" y2="476.10" stroke="#000" stroke-width="1.8" stroke-linecap="butt"/>
<text x="436.70" y="481.00" font-size="17" font-weight="bold" fill="#000" text-anchor="end">0.0</text>
<line x1="441.00" y1="446.38" x2="448.00" y2="446.38" stroke="#000" stroke-width="1.8" stroke-linecap="butt"/>
<text x="436.70" y="451.28" font-size="17" font-weight="bold" fill="#000" text-anchor="end">0.1</text>
<line x1="441.00" y1="416.66" x2="448.00" y2="416.66" stroke="#000" stroke-width="1.8" stroke-linecap="butt"/>
<text x="436.70" y="421.56" font-size="17" font-weight="bold" fill="#000" text-anchor="end">0.2</text>
<line x1="441.00" y1="386.94" x2="448.00" y2="386.94" stroke="#000" stroke-width="1.8" stroke-linecap="butt"/>
<text x="436.70" y="391.84" font-size="17" font-weight="bold" fill="#000" text-anchor="end">0.3</text>
<line x1="441.00" y1="357.22" x2="448.00" y2="357.22" stroke="#000" stroke-width="1.8" stroke-linecap="butt"/>
<text x="436.70" y="362.12" font-size="17" font-weight="bold" fill="#000" text-anchor="end">0.4</text>
<line x1="441.00" y1="327.50" x2="448.00" y2="327.50" stroke="#000" stroke-width="1.8" stroke-linecap="butt"/>
<text x="436.70" y="332.40" font-size="17" font-weight="bold" fill="#000" text-anchor="end">0.5</text>
<line x1="441.00" y1="297.78" x2="448.00" y2="297.78" stroke="#000" stroke-width="1.8" stroke-linecap="butt"/>
<text x="436.70" y="302.68" font-size="17" font-weight="bold" fill="#000" text-anchor="end">0.6</text>
<line x1="444.00" y1="461.24" x2="448.00" y2="461.24" stroke="#000" stroke-width="1.8" stroke-linecap="butt"/>
<line x1="444.00" y1="431.52" x2="448.00" y2="431.52" stroke="#000" stroke-width="1.8" stroke-linecap="butt"/>
<line x1="444.00" y1="401.80" x2="448.00" y2="401.80" stroke="#000" stroke-width="1.8" stroke-linecap="butt"/>
<line x1="444.00" y1="372.08" x2="448.00" y2="372.08" stroke="#000" stroke-width="1.8" stroke-linecap="butt"/>
<line x1="444.00" y1="342.36" x2="448.00" y2="342.36" stroke="#000" stroke-width="1.8" stroke-linecap="butt"/>
<line x1="444.00" y1="312.64" x2="448.00" y2="312.64" stroke="#000" stroke-width="1.8" stroke-linecap="butt"/>
<line x1="444.00" y1="282.92" x2="448.00" y2="282.92" stroke="#000" stroke-width="1.8" stroke-linecap="butt"/>
<line x1="470.00" y1="482.00" x2="470.00" y2="489.00" stroke="#000" stroke-width="1.8" stroke-linecap="butt"/>
<text x="470.00" y="507.30" font-size="17" font-weight="bold" fill="#000" text-anchor="middle">100</text>
<line x1="559.44" y1="482.00" x2="559.44" y2="489.00" stroke="#000" stroke-width="1.8" stroke-linecap="butt"/>
<text x="559.44" y="507.30" font-size="17" font-weight="bold" fill="#000" text-anchor="middle">200</text>
<line x1="648.88" y1="482.00" x2="648.88" y2="489.00" stroke="#000" stroke-width="1.8" stroke-linecap="butt"/>
<text x="648.88" y="507.30" font-size="17" font-weight="bold" fill="#000" text-anchor="middle">300</text>
<line x1="514.72" y1="482.00" x2="514.72" y2="486.30" stroke="#000" stroke-width="1.8" stroke-linecap="butt"/>
<line x1="604.16" y1="482.00" x2="604.16" y2="486.30" stroke="#000" stroke-width="1.8" stroke-linecap="butt"/>
<polyline points="470.00,439.40 514.90,439.80 559.50,444.40 603.80,469.90 648.80,476.00" fill="none" stroke="#000" stroke-width="1.9" stroke-linejoin="round"/>
<circle cx="470.00" cy="439.40" r="4.4" fill="#fff" stroke="#000" stroke-width="1.3"/>
<circle cx="514.90" cy="439.80" r="4.4" fill="#fff" stroke="#000" stroke-width="1.3"/>
<circle cx="559.50" cy="444.40" r="4.4" fill="#fff" stroke="#000" stroke-width="1.3"/>
<circle cx="603.80" cy="469.90" r="4.4" fill="#fff" stroke="#000" stroke-width="1.3"/>
<circle cx="648.80" cy="476.00" r="4.4" fill="#fff" stroke="#000" stroke-width="1.3"/>
<polyline points="470.00,437.50 514.90,443.40 559.50,449.70 603.80,456.00 648.80,476.00" fill="none" stroke="#000" stroke-width="1.9" stroke-linejoin="round"/>
<circle cx="470.00" cy="437.50" r="4.6" fill="url(#gk)"/>
<circle cx="514.90" cy="443.40" r="4.6" fill="url(#gk)"/>
<circle cx="559.50" cy="449.70" r="4.6" fill="url(#gk)"/>
<circle cx="603.80" cy="456.00" r="4.6" fill="url(#gk)"/>
<circle cx="648.80" cy="476.00" r="4.6" fill="url(#gk)"/>
<polyline points="470.00,408.00 514.90,406.50 559.50,413.90 603.80,447.50 648.80,476.00" fill="none" stroke="#ff2eff" stroke-width="1.9" stroke-linejoin="round"/>
<circle cx="470.00" cy="408.00" r="4.4" fill="#fff" stroke="#ff2eff" stroke-width="1.3"/>
<circle cx="514.90" cy="406.50" r="4.4" fill="#fff" stroke="#ff2eff" stroke-width="1.3"/>
<circle cx="559.50" cy="413.90" r="4.4" fill="#fff" stroke="#ff2eff" stroke-width="1.3"/>
<circle cx="603.80" cy="447.50" r="4.4" fill="#fff" stroke="#ff2eff" stroke-width="1.3"/>
<circle cx="648.80" cy="476.00" r="4.4" fill="#fff" stroke="#ff2eff" stroke-width="1.3"/>
<polyline points="470.00,395.80 514.90,380.90 559.50,391.70 603.80,445.10 648.80,476.00" fill="none" stroke="#ff2eff" stroke-width="1.9" stroke-linejoin="round"/>
<circle cx="470.00" cy="395.80" r="4.6" fill="url(#gm)"/>
<circle cx="514.90" cy="380.90" r="4.6" fill="url(#gm)"/>
<circle cx="559.50" cy="391.70" r="4.6" fill="url(#gm)"/>
<circle cx="603.80" cy="445.10" r="4.6" fill="url(#gm)"/>
<circle cx="648.80" cy="476.00" r="4.6" fill="url(#gm)"/>
<polyline points="470.00,368.40 514.90,362.90 559.50,374.00 603.80,423.20 648.80,476.00" fill="none" stroke="#2323f5" stroke-width="1.9" stroke-linejoin="round"/>
<circle cx="470.00" cy="368.40" r="4.4" fill="#fff" stroke="#2323f5" stroke-width="1.3"/>
<circle cx="514.90" cy="362.90" r="4.4" fill="#fff" stroke="#2323f5" stroke-width="1.3"/>
<circle cx="559.50" cy="374.00" r="4.4" fill="#fff" stroke="#2323f5" stroke-width="1.3"/>
<circle cx="603.80" cy="423.20" r="4.4" fill="#fff" stroke="#2323f5" stroke-width="1.3"/>
<circle cx="648.80" cy="476.00" r="4.4" fill="#fff" stroke="#2323f5" stroke-width="1.3"/>
<polyline points="470.00,386.80 514.90,392.90 559.50,395.80 603.80,449.50 648.80,476.00" fill="none" stroke="#2323f5" stroke-width="1.9" stroke-linejoin="round"/>
<circle cx="470.00" cy="386.80" r="4.6" fill="url(#gb)"/>
<circle cx="514.90" cy="392.90" r="4.6" fill="url(#gb)"/>
<circle cx="559.50" cy="395.80" r="4.6" fill="url(#gb)"/>
<circle cx="603.80" cy="449.50" r="4.6" fill="url(#gb)"/>
<circle cx="648.80" cy="476.00" r="4.6" fill="url(#gb)"/>
<polyline points="470.00,325.50 514.90,316.00 559.50,331.60 603.80,395.30 648.80,476.00" fill="none" stroke="#ff2222" stroke-width="1.9" stroke-linejoin="round"/>
<circle cx="470.00" cy="325.50" r="4.4" fill="#fff" stroke="#ff2222" stroke-width="1.3"/>
<circle cx="514.90" cy="316.00" r="4.4" fill="#fff" stroke="#ff2222" stroke-width="1.3"/>
<circle cx="559.50" cy="331.60" r="4.4" fill="#fff" stroke="#ff2222" stroke-width="1.3"/>
<circle cx="603.80" cy="395.30" r="4.4" fill="#fff" stroke="#ff2222" stroke-width="1.3"/>
<circle cx="648.80" cy="476.00" r="4.4" fill="#fff" stroke="#ff2222" stroke-width="1.3"/>
<polyline points="470.00,318.50 514.90,306.10 559.50,324.50 603.80,383.80 648.80,476.00" fill="none" stroke="#ff2222" stroke-width="1.9" stroke-linejoin="round"/>
<circle cx="470.00" cy="318.50" r="4.6" fill="url(#gr)"/>
<circle cx="514.90" cy="306.10" r="4.6" fill="url(#gr)"/>
<circle cx="559.50" cy="324.50" r="4.6" fill="url(#gr)"/>
<circle cx="603.80" cy="383.80" r="4.6" fill="url(#gr)"/>
<circle cx="648.80" cy="476.00" r="4.6" fill="url(#gr)"/>
<rect x="448.0" y="283.1" width="223.20" height="198.90" fill="none" stroke="#000" stroke-width="1.8"/>
<line x1="599.00" y1="299.00" x2="612.00" y2="299.00" stroke="#ff2222" stroke-width="2.1" stroke-linecap="butt"/>
<g transform="translate(614.04 304.85) scale(1.015 1.035)"><text x="0" y="0" font-size="18" fill="#000">0.4 Å<tspan font-size="10.5" dy="-4.9">-1</tspan></text></g>
<line x1="599.00" y1="315.60" x2="612.00" y2="315.60" stroke="#2323f5" stroke-width="2.1" stroke-linecap="butt"/>
<g transform="translate(614.04 321.65) scale(1.015 1.035)"><text x="0" y="0" font-size="18" fill="#000">0.3 Å<tspan font-size="10.5" dy="-4.9">-1</tspan></text></g>
<line x1="599.00" y1="332.20" x2="612.00" y2="332.20" stroke="#ff2eff" stroke-width="2.1" stroke-linecap="butt"/>
<g transform="translate(614.04 338.45) scale(1.015 1.035)"><text x="0" y="0" font-size="18" fill="#000">0.2 Å<tspan font-size="10.5" dy="-4.9">-1</tspan></text></g>
<line x1="599.00" y1="348.80" x2="612.00" y2="348.80" stroke="#000" stroke-width="2.1" stroke-linecap="butt"/>
<g transform="translate(614.04 355.25) scale(1.015 1.035)"><text x="0" y="0" font-size="18" fill="#000">0.1 Å<tspan font-size="10.5" dy="-4.9">-1</tspan></text></g>
<g transform="translate(100.65 37.84) rotate(0) scale(1.0036 1.0353)"><text x="0" y="0" font-size="18" font-weight="bold" fill="#000">CDW</text></g>
<g transform="translate(120.47 54.14) rotate(0) scale(0.9868 1.0510)"><text x="0" y="0" font-size="18" fill="#1a1a90">100 K</text></g>
<g transform="translate(120.47 70.14) rotate(0) scale(0.9868 1.0510)"><text x="0" y="0" font-size="18" fill="#2323f5">150 K</text></g>
<g transform="translate(120.72 86.44) rotate(0) scale(0.9814 1.0510)"><text x="0" y="0" font-size="18" fill="#55eef5">200 K</text></g>
<g transform="translate(120.72 102.84) rotate(0) scale(0.9814 1.0510)"><text x="0" y="0" font-size="18" fill="#ff2eff">250 K</text></g>
<g transform="translate(120.97 119.24) rotate(0) scale(0.9761 1.0510)"><text x="0" y="0" font-size="18" fill="#dede3a">300 K</text></g>
<g transform="translate(236.34 171.15) rotate(0) scale(1.0067 0.9887)"><text x="0" y="0" font-size="18" font-weight="bold" fill="#000">Normal</text></g>
<g transform="translate(255.55 188.24) rotate(0) scale(1.0000 1.0510)"><text x="0" y="0" font-size="18" fill="#f07a38">335 K</text></g>
<g transform="translate(255.55 204.14) rotate(0) scale(1.0000 1.0510)"><text x="0" y="0" font-size="18" fill="#ff2222">360 K</text></g>
<g transform="translate(36.45 19.34) rotate(0) scale(0.9961 1.0415)"><text x="0" y="0" font-size="24" font-weight="bold" fill="#000">a</text></g>
<g transform="translate(17.45 214.91) rotate(-90) scale(1.0056 0.9659)"><text x="0" y="0" font-size="22" font-weight="bold" fill="#000">Norm. Square of</text></g>
<g transform="translate(42.01 237.78) rotate(-90) scale(0.9854 0.8195)"><text x="0" y="0" font-size="22" font-weight="bold" fill="#000">Plasmon (arb. units)</text></g>
<g transform="translate(156.28 260.56) rotate(0) scale(1.0163 0.9642)"><text x="0" y="0" font-size="22" font-weight="bold" fill="#000">q<tspan font-size="13.5" font-weight="normal" dy="-8">2</tspan><tspan dy="8"> (Å</tspan><tspan font-size="13.5" font-weight="normal" dy="-8">-2</tspan><tspan dy="8">)</tspan></text></g>
<g transform="translate(514.84 203.76) rotate(0) scale(1.0051 0.9660)"><text x="0" y="0" font-size="18" fill="#646464">inverse BCS</text></g>
<g transform="translate(333.50 19.34) rotate(0) scale(1.1347 1.0514)"><text x="0" y="0" font-size="24" font-weight="bold" fill="#000">b</text></g>
<g transform="translate(343.28 153.31) rotate(-90) scale(1.0069 1.0049)"><text x="0" y="0" font-size="22" font-weight="bold" fill="#000">m*<tspan dx="5">(m</tspan><tspan font-size="14" dy="4">0</tspan><tspan dy="-4">)</tspan></text></g>
<g transform="translate(426.55 260.19) rotate(0) scale(0.9808 1.0244)"><text x="0" y="0" font-size="22" font-weight="bold" fill="#000">Temperature (K)</text></g>
<g transform="translate(666.18 52.50) rotate(90) scale(0.9975 0.9075)"><text x="0" y="0" font-size="22" font-weight="bold" fill="#2323ff">n (10<tspan font-size="14" dy="-9">21</tspan><tspan dy="9"> cm</tspan><tspan font-size="14" dy="-9">-3</tspan><tspan dy="9">)</tspan></text></g>
<g transform="translate(129.34 391.74) rotate(0) scale(1.0227 1.0034)"><text x="0" y="0" font-size="16" font-weight="bold" fill="#000">Temperature (K)</text></g>
<g transform="translate(99.57 447.60) rotate(-90) scale(0.9356 1.0553)"><text x="0" y="0" font-size="16" font-weight="bold" fill="#000">q<tspan font-size="10" dy="3">a</tspan></text></g>
<g transform="translate(264.58 307.24) rotate(0) scale(1.0129 1.0431)"><text x="0" y="0" font-size="18" fill="#646464">BCS</text></g>
<g transform="translate(36.30 287.15) rotate(0) scale(1.0957 1.0189)"><text x="0" y="0" font-size="24" font-weight="bold" fill="#000">c</text></g>
<g transform="translate(46.66 469.40) rotate(-90) scale(0.9960 1.0532)"><text x="0" y="0" font-size="22" font-weight="bold" fill="#000">CDW Gap</text></g>
<g transform="translate(46.83 337.53) rotate(-90) scale(0.9266 1.0146)"><text x="0" y="0" font-size="22" font-weight="bold" fill="#000">(eV)</text></g>
<g transform="translate(119.86 527.80) rotate(0) scale(0.9790 1.0000)"><text x="0" y="0" font-size="22" font-weight="bold" fill="#000">Temperature (K)</text></g>
<g transform="translate(353.61 253.40) rotate(90) scale(1.0028 1.0244)"><text x="0" y="0" font-size="22" font-weight="bold" fill="#2f962f">Norm. q<tspan font-size="12.5" dy="4">CDW</tspan><tspan dy="-4"> Int. (arb. units)</tspan></text></g>
<g transform="translate(388.21 287.03) rotate(0) scale(1.0917 1.0629)"><text x="0" y="0" font-size="24" font-weight="bold" fill="#000">d</text></g>
<g transform="translate(402.82 451.18) rotate(-90) scale(0.9853 1.0390)"><text x="0" y="0" font-size="22" font-weight="bold" fill="#000">Blueshift (eV)</text></g>
<g transform="translate(472.35 529.00) rotate(0) scale(0.9808 1.0439)"><text x="0" y="0" font-size="22" font-weight="bold" fill="#000">Temperature (K)</text></g></svg></body></html>
